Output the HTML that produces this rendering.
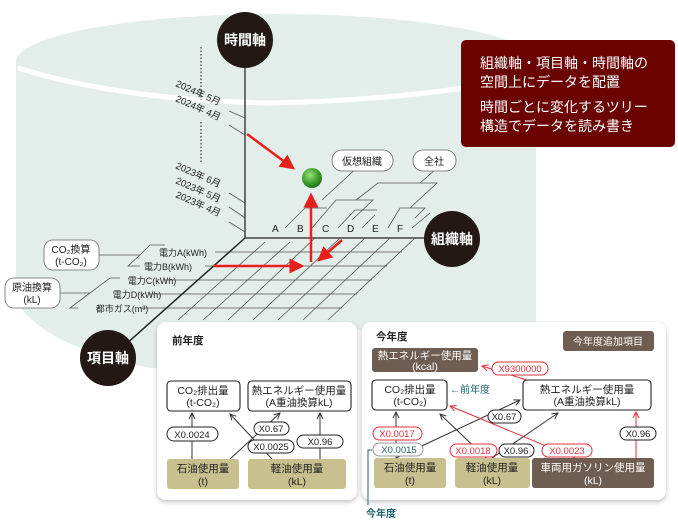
<!DOCTYPE html>
<html><head><meta charset="utf-8"><style>
html,body{margin:0;padding:0;background:#fff;}
svg{display:block;font-family:"Liberation Sans","Noto Sans CJK JP",sans-serif;}
</style></head><body>
<svg width="678" height="529" viewBox="0 0 678 529" xmlns="http://www.w3.org/2000/svg">
<defs>
<radialGradient id="g" cx="0.4" cy="0.35" r="0.7"><stop offset="0" stop-color="#9be07a"/><stop offset="0.6" stop-color="#3a9e2a"/><stop offset="1" stop-color="#1f6e16"/></radialGradient>
<marker id="ra" markerWidth="6" markerHeight="6" refX="5" refY="3" orient="auto" markerUnits="strokeWidth"><path d="M0,0 L6,3 L0,6 z" fill="#e8201c"/></marker>
<marker id="ka" markerWidth="8" markerHeight="8" refX="7" refY="4" orient="auto" markerUnits="userSpaceOnUse"><path d="M1,1 L7,4 L1,7" fill="none" stroke="#333" stroke-width="1"/></marker>
<marker id="rr" markerWidth="8" markerHeight="8" refX="7" refY="4" orient="auto" markerUnits="userSpaceOnUse"><path d="M1,1 L7,4 L1,7" fill="none" stroke="#e0303a" stroke-width="1"/></marker>
<filter id="sh" x="-5%" y="-5%" width="110%" height="115%"><feDropShadow dx="0" dy="2" stdDeviation="2.5" flood-color="#000" flood-opacity="0.25"/></filter>
</defs>
<!-- cylinder -->
<path d="M16,62 A260,48 0 0 1 536,62 L536,330 L150,330 Q60,330 16,300 Z" fill="#e3eeeb"/>
<path d="M16,300 Q40,345 150,368 L160,368 L160,320 Z" fill="#e3eeeb"/>
<path d="M18,68 Q120,100 270,103 Q420,100 536,75" fill="none" stroke="#fff" stroke-width="5"/>
<!-- info box -->
<rect x="461" y="40" width="214" height="107" rx="5" fill="#6b0303"/>
<g fill="#fff" font-size="14">
<text x="480" y="68">組織軸・項目軸・時間軸の</text>
<text x="480" y="87">空間上にデータを配置</text>
<text x="480" y="112">時間ごとに変化するツリー</text>
<text x="480" y="131">構造でデータを読み書き</text>
</g>
<!-- dotted line -->
<line x1="201" y1="47" x2="201" y2="100" stroke="#444" stroke-width="1.3" stroke-dasharray="1.5,2"/>
<line x1="201" y1="122" x2="201" y2="162" stroke="#444" stroke-width="1.3" stroke-dasharray="1.5,2"/>
<!-- grid -->
<g stroke="#555" stroke-width="0.8" fill="none">
<line x1="215" y1="252" x2="402" y2="252"/>
<line x1="205" y1="266" x2="387" y2="266"/>
<line x1="165" y1="280" x2="372" y2="280"/>
<line x1="150" y1="294" x2="357" y2="294"/>
<line x1="140" y1="308" x2="342" y2="308"/>
<line x1="265" y1="242" x2="178" y2="320"/>
<line x1="290" y1="242" x2="203" y2="320"/>
<line x1="315" y1="238" x2="228" y2="320"/>
<line x1="340" y1="238" x2="253" y2="320"/>
<line x1="365" y1="238" x2="278" y2="320"/>
<line x1="390" y1="238" x2="303" y2="320"/>
<line x1="415" y1="238" x2="328" y2="320"/>
<!-- org brackets -->
<path d="M285,228 L305,208 L327,208 M312,228 L336,200 L373,200 L352,220 M338,228 L355,210 L377,210 M322,200 L360,165 M356,200 L378,183 L437,183 L410,208 M362,228 L375,215 M388,228 L400,208 L425,208 L415,218 M420,183 L435,170 M412,228 L430,213"/>
<!-- item brackets -->
<path d="M98,255 L140,255 L150,245 L158,245 M140,255 L128,266 L140,266 M60,293 L90,293 L110,278 L120,278 M90,293 L70,308 L78,308 M150,245 L165,245 M138,266 L150,266"/>
<!-- time ticks -->
<line x1="229" y1="111" x2="245" y2="118"/>
<line x1="229" y1="125" x2="245" y2="135"/>
<line x1="229" y1="193" x2="245" y2="203"/>
<line x1="229" y1="207" x2="245" y2="218"/>
<line x1="229" y1="222" x2="245" y2="232"/>
</g>
<!-- axes -->
<line x1="245" y1="60" x2="245" y2="238" stroke="#444" stroke-width="1.5"/>
<line x1="245" y1="238" x2="430" y2="238" stroke="#444" stroke-width="1.5"/>
<line x1="245" y1="238" x2="125" y2="345" stroke="#222" stroke-width="1.5"/>
<!-- time labels -->
<g font-size="9.5" fill="#222">
<text transform="translate(175,86) rotate(24)">2024年 5月</text>
<text transform="translate(175,101) rotate(24)">2024年 4月</text>
<text transform="translate(175,168) rotate(24)">2023年 6月</text>
<text transform="translate(175,183) rotate(24)">2023年 5月</text>
<text transform="translate(175,197) rotate(24)">2023年 4月</text>
</g>
<g font-size="10" fill="#222">
<text x="272" y="232">A</text><text x="297" y="232">B</text><text x="322" y="232">C</text><text x="347" y="232">D</text><text x="372" y="232">E</text><text x="397" y="232">F</text>
</g>
<g font-size="9" fill="#222" text-anchor="middle">
<rect x="155" y="246" width="56" height="12" fill="#e3eeeb"/>
<text x="183" y="256">電力A(kWh)</text>
<rect x="140" y="260" width="58" height="12" fill="#e3eeeb"/>
<text x="168" y="270">電力B(kWh)</text>
<text x="152" y="284">電力C(kWh)</text>
<text x="137" y="298">電力D(kWh)</text>
<text x="122" y="312">都市ガス(m³)</text>
</g>
<!-- pills -->
<g stroke="#666" stroke-width="0.8" fill="#fff">
<rect x="44" y="240" width="55" height="30" rx="9"/>
<rect x="5" y="278" width="55" height="30" rx="9"/>
<rect x="332" y="150" width="61" height="21" rx="10"/>
<rect x="413" y="150" width="43" height="21" rx="10"/>
</g>
<g font-size="10" fill="#222" text-anchor="middle">
<text x="71" y="253">CO₂換算</text><text x="71" y="265">(t-CO₂)</text>
<text x="32" y="291">原油換算</text><text x="32" y="303">(kL)</text>
<text x="362" y="165">仮想組織</text><text x="434" y="165">全社</text>
</g>
<!-- red arrows -->
<g stroke="#e8201c" stroke-width="2.5" fill="none" marker-end="url(#ra)">
<line x1="247" y1="134" x2="293" y2="168"/>
<line x1="311" y1="262" x2="311" y2="195"/>
<line x1="213" y1="266" x2="302" y2="266"/>
<line x1="342" y1="240" x2="319" y2="260"/>
</g>
<circle cx="312" cy="178" r="10" fill="url(#g)"/>
<!-- axis circles -->
<g fill="#231815"><circle cx="245" cy="40" r="28"/><circle cx="452" cy="239" r="28"/><circle cx="108" cy="358" r="28"/></g>
<g fill="#fff" font-size="14" font-weight="bold" text-anchor="middle">
<text x="245" y="45">時間軸</text><text x="452" y="244">組織軸</text><text x="108" y="363">項目軸</text>
</g>
<!-- panels -->
<rect x="157" y="322" width="200" height="178" rx="9" fill="#fff" filter="url(#sh)"/>
<rect x="362" y="322" width="304" height="178" rx="9" fill="#fff" filter="url(#sh)"/>
<g font-size="10.5" font-weight="bold" fill="#222"><text x="172" y="344">前年度</text><text x="376" y="340">今年度</text></g>
<!-- left panel -->
<g stroke="#333" stroke-width="1" fill="none">
<line x1="192" y1="459" x2="192" y2="413" marker-end="url(#ka)"/>
<line x1="230" y1="459" x2="280" y2="413" marker-end="url(#ka)"/>
<line x1="272" y1="459" x2="230" y2="414" marker-end="url(#ka)"/>
<line x1="320" y1="459" x2="320" y2="413" marker-end="url(#ka)"/>
</g>
<g stroke="#222" stroke-width="1.1" fill="#fff">
<rect x="167" y="381" width="73" height="30" rx="4"/>
<rect x="248" y="381" width="103" height="30" rx="4"/>
</g>
<g fill="#c8c08f"><rect x="167" y="459" width="72" height="30" rx="3"/><rect x="248" y="459" width="98" height="30" rx="3"/></g>
<g stroke="#222" stroke-width="1" fill="#fff">
<rect x="167" y="427" width="51" height="14" rx="7"/>
<rect x="254" y="422" width="35" height="13" rx="6.5"/>
<rect x="248" y="440" width="46" height="13" rx="6.5"/>
<rect x="297" y="435" width="46" height="13" rx="6.5"/>
</g>
<g font-size="10.5" fill="#222" text-anchor="middle">
<text x="203" y="394">CO₂排出量</text><text x="203" y="406">(t-CO₂)</text>
<text x="299" y="394">熱エネルギー使用量</text><text x="299" y="406">(A重油換算kL)</text>
<text x="203" y="472">石油使用量</text><text x="203" y="485">(t)</text>
<text x="297" y="472">軽油使用量</text><text x="297" y="485">(kL)</text>
</g>
<g font-size="9.5" fill="#222" text-anchor="middle">
<text x="192" y="438">X0.0024</text><text x="271" y="432">X0.67</text><text x="271" y="450">X0.0025</text><text x="320" y="445">X0.96</text>
</g>
<!-- right panel -->
<g stroke="#333" stroke-width="1" fill="none">
<line x1="396" y1="458" x2="396" y2="412" marker-end="url(#ka)"/>
<line x1="396" y1="458" x2="520" y2="400" marker-end="url(#ka)"/>
<line x1="486" y1="458" x2="440" y2="414" marker-end="url(#ka)"/>
<line x1="492" y1="458" x2="558" y2="413" marker-end="url(#ka)"/>
</g>
<g stroke="#e0303a" stroke-width="1" fill="none">
<line x1="575" y1="458" x2="450" y2="406" marker-end="url(#rr)"/>
<line x1="636" y1="458" x2="636" y2="412" marker-end="url(#rr)"/>
<line x1="530" y1="381" x2="482" y2="366" marker-end="url(#rr)"/>
</g>
<rect x="563" y="331" width="91" height="20" rx="3" fill="#6e5d50"/>
<text x="608" y="345" font-size="10" fill="#fff" text-anchor="middle">今年度追加項目</text>
<rect x="372" y="348" width="106" height="24" rx="3" fill="#6e5d50"/>
<g stroke="#222" stroke-width="1.1" fill="#fff">
<rect x="372" y="380" width="75" height="30" rx="4"/>
<rect x="523" y="380" width="128" height="30" rx="4"/>
</g>
<g fill="#c8c08f"><rect x="374" y="458" width="72" height="30" rx="3"/><rect x="455" y="458" width="75" height="30" rx="3"/></g>
<rect x="532" y="458" width="122" height="30" rx="3" fill="#6e5d50"/>
<g font-size="10.5" text-anchor="middle">
<text x="425" y="359" fill="#fff">熱エネルギー使用量</text><text x="425" y="370" fill="#fff">(kcal)</text>
<text x="410" y="393" fill="#222">CO₂排出量</text><text x="410" y="405" fill="#222">(t-CO₂)</text>
<text x="587" y="393" fill="#222">熱エネルギー使用量</text><text x="587" y="405" fill="#222">(A重油換算kL)</text>
<text x="410" y="471" fill="#222">石油使用量</text><text x="410" y="484" fill="#222">(t)</text>
<text x="492" y="471" fill="#222">軽油使用量</text><text x="492" y="484" fill="#222">(kL)</text>
<text x="593" y="471" fill="#fff">車両用ガソリン使用量</text><text x="593" y="484" fill="#fff">(kL)</text>
</g>
<text x="450" y="393" font-size="10" fill="#1d5f6b">←前年度</text>
<g stroke-width="1" fill="#fff">
<rect x="492" y="362" width="56" height="13" rx="6.5" stroke="#e0303a"/>
<rect x="488" y="410" width="33" height="13" rx="6.5" stroke="#222"/>
<rect x="373" y="427" width="49" height="13" rx="6.5" stroke="#e0303a"/>
<rect x="373" y="443" width="50" height="13" rx="6.5" stroke="#999"/>
<rect x="450" y="444" width="47" height="13" rx="6.5" stroke="#e0303a"/>
<rect x="499" y="444" width="35" height="13" rx="6.5" stroke="#222"/>
<rect x="542" y="444" width="50" height="13" rx="6.5" stroke="#e0303a"/>
<rect x="620" y="427" width="36" height="13" rx="6.5" stroke="#222"/>
</g>
<g font-size="9.5" text-anchor="middle">
<text x="520" y="372" fill="#e0303a">X9300000</text>
<text x="504" y="420" fill="#222">X0.67</text>
<text x="397" y="437" fill="#e0303a">X0.0017</text>
<text x="399" y="453" fill="#1d5f6b">X0.0015</text>
<text x="473" y="454" fill="#e0303a">X0.0018</text>
<text x="516" y="454" fill="#222">X0.96</text>
<text x="567" y="454" fill="#e0303a">X0.0023</text>
<text x="638" y="437" fill="#222">X0.96</text>
</g>
<path d="M368,505 L368,450 L372,450" fill="none" stroke="#1d5f6b" stroke-width="1"/>
<text x="366" y="517" font-size="10" font-weight="bold" fill="#1d5f6b">今年度</text>
</svg>
</body></html>
